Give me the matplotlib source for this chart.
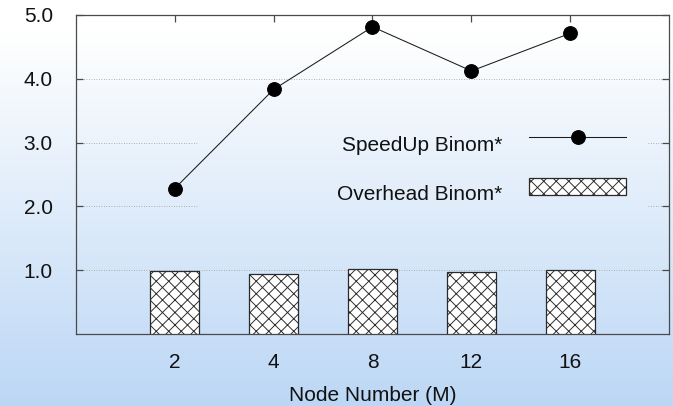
import numpy as np
import matplotlib
matplotlib.use("Agg")
import matplotlib.pyplot as plt

# Data
nodes = ["2", "4", "8", "12", "16"]
speedup = [2.28, 3.83, 4.81, 4.12, 4.71]
overhead = [0.99, 0.94, 1.02, 0.98, 1.00]
y_ticks = [1.0, 2.0, 3.0, 4.0, 5.0]
y_tick_labels = ["1.0", "2.0", "3.0", "4.0", "5.0"]
series_names = ["SpeedUp Binom*", "Overhead Binom*"]
x_label = "Node Number (M)"

DPI = 75
W, H = 673, 406

plt.rcParams["font.family"] = ["Liberation Sans", "DejaVu Sans"]
plt.rcParams["hatch.color"] = "#6e6e6e"
plt.rcParams["hatch.linewidth"] = 0.9

fig = plt.figure(figsize=(W / DPI, H / DPI), dpi=DPI)

# Soft vertical gradient behind everything
bg = fig.add_axes([0, 0, 1, 1], zorder=-10)
t = np.linspace(0, 1, 256)[:, None]
top = np.array([255, 255, 255]) / 255
bot = np.array([188, 215, 245]) / 255
ramp = np.clip((t - 0.08) / 0.92, 0, 1)
grad = top[None, None, :] * (1 - ramp[..., None]) + bot[None, None, :] * ramp[..., None]
grad = np.repeat(grad, 2, axis=1)
bg.imshow(grad, aspect="auto", extent=[0, 1, 0, 1], origin="upper")
bg.axis("off")

ax = fig.add_axes([75.7 / W, 1 - 334.3 / H, (669.3 - 75.7) / W, (334.3 - 14.7) / H])
ax.set_facecolor("none")

x = np.arange(len(nodes))
ax.set_xlim(-1, len(nodes))
ax.set_ylim(0, 5)

# Dotted horizontal grid; the middle rows leave room for the key
grid_kw = dict(color="#9a9a9a", linestyle=(0, (1, 2)), linewidth=0.8, zorder=1)
gap_lo, gap_hi = 0.204, 0.9636
for yv in y_ticks[:-1]:
    if yv in (2.0, 3.0):
        ax.axhline(yv, xmin=0, xmax=gap_lo, **grid_kw)
        ax.axhline(yv, xmin=gap_hi, xmax=1, **grid_kw)
    else:
        ax.axhline(yv, **grid_kw)

bars = ax.bar(x, overhead, width=0.5, facecolor="white", edgecolor="#2a2a2a",
              linewidth=1.2, hatch="xx", zorder=3, label=series_names[1])
line, = ax.plot(x, speedup, color="#1a1a1a", linewidth=1.0, marker="o",
                markersize=13.2, markerfacecolor="black", markeredgecolor="black",
                zorder=4, label=series_names[0])

ax.set_xticks(x)
ax.set_xticklabels(nodes)
ax.set_yticks(y_ticks)
ax.set_yticklabels(y_tick_labels)

for side in ax.spines.values():
    side.set_color("#4a4a4a")
    side.set_linewidth(1.2)

ax.tick_params(axis="both", which="major", direction="in", length=6.5, width=1.2,
               color="#4a4a4a", labelsize=20, labelcolor="#111111",
               top=True, right=True, bottom=True, left=True)
ax.tick_params(axis="y", pad=22)
ax.tick_params(axis="x", pad=18)

ax.set_xlabel(x_label, fontsize=20, color="#111111", labelpad=13)

leg = ax.legend(handles=[line, bars[0]], labels=series_names, loc="upper right",
                bbox_to_anchor=((626 - 75.7) / (669.3 - 75.7), (334.3 - 129) / (334.3 - 14.7)),
                frameon=False, markerfirst=False, fontsize=20, handlelength=4.65,
                handleheight=0.9, handletextpad=1.3, labelspacing=1.4,
                borderpad=0, borderaxespad=0)
for txt in leg.get_texts():
    txt.set_color("#111111")
    # labels sit a little below their key symbols
    txt.set_y(-6)

fig.savefig("out.png", dpi=DPI)
